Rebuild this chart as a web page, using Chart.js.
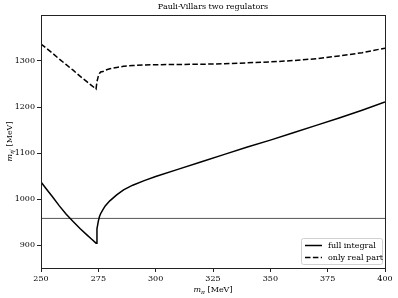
<!DOCTYPE html>
<html>
<head>
<meta charset="utf-8">
<script src="https://cdn.jsdelivr.net/npm/chart.js@4.4.0/dist/chart.umd.min.js"></script>
<style>
html,body{margin:0;padding:0;background:#fff;}
#wrap{width:398px;height:298px;}
</style>
</head>
<body>
<div id="wrap"><canvas id="c" width="398" height="298"></canvas></div>
<script>
// ---- data ----
const chartTitle = "Pauli-Villars two regulators";
const xLabelParts = ["m", "\u03C0", " [MeV]"];
const yLabelParts = ["m", "\u03B7\u2032", " [MeV]"];
const mPi = [250, 252, 255, 258, 261, 264, 267, 270, 272, 274, 274.4, 275, 275.5, 276, 277, 278, 280, 283, 286, 290, 295, 300, 310, 320, 330, 340, 350, 360, 370, 380, 390, 400];
const fullIntegral = [1037, 1024, 1005, 985, 967, 951, 936, 922, 913, 904, 935, 952, 962, 968, 977, 985, 996, 1009, 1020, 1030, 1040, 1049, 1065, 1081, 1097, 1113, 1128, 1144, 1160, 1176, 1193, 1211];
const onlyRealPart = [1337, 1329, 1317, 1304, 1292, 1280, 1267, 1255, 1247, 1239, 1255, 1267, 1273, 1276, 1277, 1280, 1283, 1286, 1288.5, 1290, 1291.5, 1292, 1292.5, 1293, 1294, 1296, 1298, 1301, 1305, 1311, 1318, 1328];
const etaPrimeMass = 957.78;
const seriesNames = ["full integral", "only real part"];
const xTicks = [250, 275, 300, 325, 350, 375, 400];
const yTicks = [900, 1000, 1100, 1200, 1300];
const xRange = [250, 400];
const yRange = [850, 1400];

const FONT = "'DejaVu Serif', serif";
const pts = (xs, ys) => xs.map((x, i) => ({x: x, y: ys[i]}));

function drawMathLabel(ctx, parts, cx, cy) {
  const fMain = "italic 8px " + FONT, fSub = "italic 6px " + FONT, fRom = "8px " + FONT;
  ctx.font = fMain; const w0 = ctx.measureText(parts[0]).width;
  ctx.font = fSub; const w1 = ctx.measureText(parts[1]).width;
  ctx.font = fRom; const w2 = ctx.measureText(parts[2]).width;
  let x = cx - (w0 + w1 + w2) / 2;
  ctx.textAlign = 'left'; ctx.textBaseline = 'alphabetic'; ctx.fillStyle = '#000';
  ctx.font = fMain; ctx.fillText(parts[0], x, cy); x += w0;
  ctx.font = fSub; ctx.fillText(parts[1], x, cy + 2); x += w1;
  ctx.font = fRom; ctx.fillText(parts[2], x, cy);
}

const framePlugin = {
  id: 'frameAndLegend',
  afterDraw(chart) {
    const ctx = chart.ctx, a = chart.chartArea;
    ctx.save();
    ctx.strokeStyle = '#222';
    ctx.lineWidth = 1;
    ctx.setLineDash([]);
    ctx.strokeRect(Math.round(a.left) + 0.5, Math.round(a.top) + 0.5, Math.round(a.right - a.left), Math.round(a.bottom - a.top));
    // axis labels
    drawMathLabel(ctx, xLabelParts, (a.left + a.right) / 2, 292);
    ctx.save();
    ctx.translate(12, (a.top + a.bottom) / 2);
    ctx.rotate(-Math.PI / 2);
    drawMathLabel(ctx, yLabelParts, 0, 0);
    ctx.restore();
    // legend box
    const bx = a.right - 84, by = a.bottom - 30, bw = 81, bh = 26;
    ctx.fillStyle = 'rgba(255,255,255,0.8)';
    ctx.strokeStyle = '#d0d0d0';
    ctx.beginPath();
    if (ctx.roundRect) ctx.roundRect(bx + 0.5, by + 0.5, bw, bh, 2); else ctx.rect(bx + 0.5, by + 0.5, bw, bh);
    ctx.fill(); ctx.stroke();
    const items = chart.data.datasets.filter(d => seriesNames.includes(d.label));
    items.forEach((d, i) => {
      const y = by + 7.5 + i * 12;
      ctx.strokeStyle = '#000';
      ctx.lineWidth = 1.5;
      ctx.setLineDash(d.borderDash || []);
      ctx.beginPath();
      ctx.moveTo(bx + 4, y); ctx.lineTo(bx + 21, y); ctx.stroke();
      ctx.setLineDash([]);
      ctx.fillStyle = '#000';
      ctx.font = "8px " + FONT;
      ctx.textBaseline = 'middle';
      ctx.textAlign = 'left';
      ctx.fillText(d.label, bx + 27, y);
    });
    ctx.restore();
  }
};

new Chart(document.getElementById('c'), {
  type: 'line',
  data: {
    datasets: [
      {label: seriesNames[0], data: pts(mPi, fullIntegral), borderColor: '#000', borderWidth: 1.5, pointRadius: 0, tension: 0, fill: false},
      {label: seriesNames[1], data: pts(mPi, onlyRealPart), borderColor: '#000', borderWidth: 1.5, borderDash: [5.5, 2.4], pointRadius: 0, tension: 0, fill: false},
      {label: "eta'", data: pts(xRange, [etaPrimeMass, etaPrimeMass]), borderColor: '#555', borderWidth: 1, pointRadius: 0, tension: 0, fill: false}
    ]
  },
  options: {
    responsive: false,
    animation: false,
    layout: {padding: {left: 0, right: 13, top: 0, bottom: 0}},
    plugins: {
      legend: {display: false},
      tooltip: {enabled: false},
      title: {display: true, text: chartTitle, fullSize: false, color: '#000', font: {family: FONT, size: 8, weight: 'normal', lineHeight: 1.2}, padding: {top: 2, bottom: 3.4}}
    },
    scales: {
      x: {
        type: 'linear', min: xRange[0], max: xRange[1],
        afterBuildTicks: s => { s.ticks = xTicks.map(v => ({value: v})); },
        afterFit: s => { s.height = 30; },
        grid: {drawOnChartArea: false, drawTicks: true, tickLength: 4, color: '#222'},
        border: {display: false},
        ticks: {color: '#000', font: {family: FONT, size: 8}, padding: 2, maxRotation: 0, autoSkip: false, callback: v => String(v)},
        title: {display: false}
      },
      y: {
        type: 'linear', min: yRange[0], max: yRange[1],
        afterBuildTicks: s => { s.ticks = yTicks.map(v => ({value: v})); },
        afterFit: s => { s.width = 41; },
        grid: {drawOnChartArea: false, drawTicks: true, tickLength: 4, color: '#222'},
        border: {display: false},
        ticks: {color: '#000', font: {family: FONT, size: 8}, padding: 2, autoSkip: false, callback: v => String(v)},
        title: {display: false}
      }
    }
  },
  plugins: [framePlugin]
});
</script>
</body>
</html>
